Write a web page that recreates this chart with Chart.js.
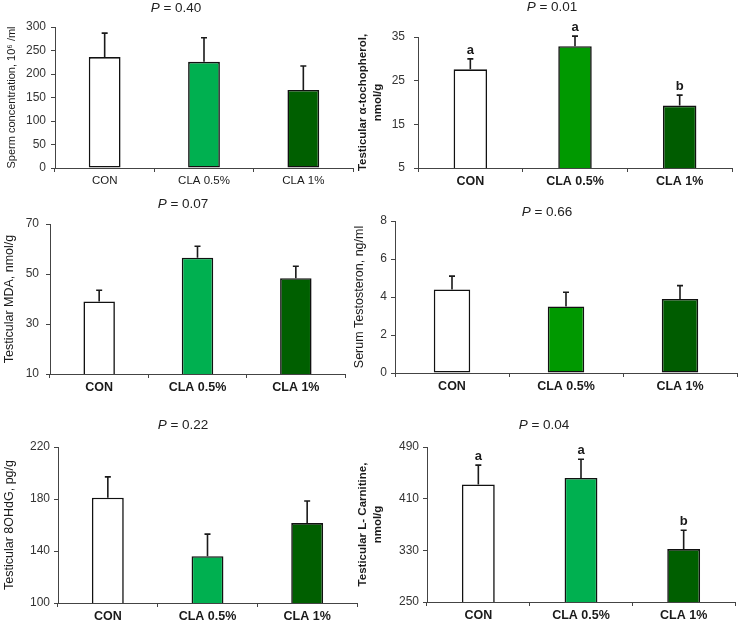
<!DOCTYPE html>
<html>
<head>
<meta charset="utf-8">
<script src="https://cdn.jsdelivr.net/npm/chart.js@4.4.1/dist/chart.umd.min.js"></script>
<style>
    body { margin: 0; background: #fff; }
    #page { position: relative; width: 740px; height: 625px; overflow: hidden; }
    #page canvas { position: absolute; }
</style>
</head>
<body>
<div id="page"></div>
<script>
// Data
const categories = ['CON', 'CLA 0.5%', 'CLA 1%'];

const spermMeans = [236, 226, 166];
const spermSd = [51, 51, 51];
const spermAxis = [0, 300, 50];

const tocoMeans = [27.6, 32.9, 19.3];
const tocoSd = [2.4, 2.3, 2.4];
const tocoAxis = [5, 35, 10];
const tocoLetters = ['a', 'a', 'b'];

const mdaMeans = [39, 56.5, 48.3];
const mdaSd = [4.5, 4.6, 4.8];
const mdaAxis = [10, 70, 20];

const testoMeans = [4.4, 3.5, 3.9];
const testoSd = [0.7, 0.75, 0.7];
const testoAxis = [0, 8, 2];

const ohdgMeans = [181, 136, 161.5];
const ohdgSd = [16, 17, 17];
const ohdgAxis = [100, 220, 40];

const carnMeans = [432, 442, 332];
const carnSd = [30, 29, 29];
const carnAxis = [250, 490, 80];
const carnLetters = ['a', 'a', 'b'];

const pValues = ['0.40', '0.01', '0.07', '0.66', '0.22', '0.04'];

const FONT = "'Liberation Sans', Arial, sans-serif";
Chart.defaults.font.family = FONT;

const lightGreen = ['#ffffff', '#00b050', '#005f00'];
const brightGreen = ['#ffffff', '#009900', '#005c00'];

// box = canvas rect, area = wanted plot area (page coords)
const panels = [
    { box: {x: 0, y: 0, w: 358, h: 195}, area: {l: 55, t: 27, r: 353, b: 168},
      means: spermMeans, sd: spermSd, axis: spermAxis, colors: lightGreen,
      yTitle: 'Sperm concentration, 10\u2076 /ml', yFont: {size: 11, weight: 'normal'}, yTitleX: 12,
      tickPad: 5, boldX: false, p: pValues[0], pX: 176, pY: 8 },
    { box: {x: 350, y: 0, w: 390, h: 195}, area: {l: 418, t: 37, r: 732, b: 168},
      means: tocoMeans, sd: tocoSd, axis: tocoAxis, colors: brightGreen, letters: tocoLetters,
      yTitle: ['Testicular \u03b1-tochopherol,', 'nmol/g'], yFont: {size: 11.5, weight: 'bold'}, yTitleX: 363,
      tickPad: 9, boldX: true, p: pValues[1], pX: 552, pY: 7 },
    { box: {x: 0, y: 195, w: 358, h: 210}, area: {l: 50, t: 224, r: 345, b: 374},
      means: mdaMeans, sd: mdaSd, axis: mdaAxis, colors: lightGreen,
      yTitle: 'Testicular MDA, nmol/g', yFont: {size: 12.5, weight: 'normal'}, yTitleX: 10,
      tickPad: 7, boldX: true, p: pValues[2], pX: 183, pY: 204 },
    { box: {x: 350, y: 195, w: 390, h: 210}, area: {l: 395, t: 221, r: 737, b: 373},
      means: testoMeans, sd: testoSd, axis: testoAxis, colors: brightGreen,
      yTitle: 'Serum Testosteron, ng/ml', yFont: {size: 12.5, weight: 'normal'}, yTitleX: 360,
      tickPad: 4, boldX: true, p: pValues[3], pX: 547, pY: 212 },
    { box: {x: 0, y: 405, w: 358, h: 220}, area: {l: 58, t: 447, r: 357, b: 603},
      means: ohdgMeans, sd: ohdgSd, axis: ohdgAxis, colors: lightGreen,
      yTitle: 'Testicular 8OHdG, pg/g', yFont: {size: 12.5, weight: 'normal'}, yTitleX: 10,
      tickPad: 4, boldX: true, p: pValues[4], pX: 183, pY: 425 },
    { box: {x: 350, y: 405, w: 390, h: 220}, area: {l: 427, t: 447, r: 735, b: 602},
      means: carnMeans, sd: carnSd, axis: carnAxis, colors: lightGreen, letters: carnLetters,
      yTitle: ['Testicular L- Carnitine,', 'nmol/g'], yFont: {size: 11.5, weight: 'bold'}, yTitleX: 363,
      tickPad: 4, boldX: true, p: pValues[5], pX: 544, pY: 425 }
];

// error bars + significance letters
const errorBars = {
    id: 'errorBars',
    afterDatasetsDraw(chart, args, opts) {
        const ctx = chart.ctx;
        const y = chart.scales.y;
        const meta = chart.getDatasetMeta(0);
        ctx.save();
        ctx.strokeStyle = '#1a1a1a';
        ctx.lineWidth = 1.6;
        ctx.fillStyle = '#1a1a1a';
        ctx.font = 'bold 13px ' + FONT;
        ctx.textAlign = 'center';
        ctx.textBaseline = 'bottom';
        meta.data.forEach((bar, i) => {
            const top = y.getPixelForValue(opts.means[i] + opts.sd[i]);
            ctx.beginPath();
            ctx.moveTo(bar.x, bar.y);
            ctx.lineTo(bar.x, top);
            ctx.moveTo(bar.x - 3, top);
            ctx.lineTo(bar.x + 3, top);
            ctx.stroke();
            if (opts.letters) ctx.fillText(opts.letters[i], bar.x, top - 2);
        });
        ctx.restore();
    }
};

// "P = x" heading with italic P
const pTitle = {
    id: 'pTitle',
    afterDraw(chart, args, opts) {
        const ctx = chart.ctx;
        const size = '13.5px ';
        ctx.save();
        ctx.fillStyle = '#222';
        ctx.textBaseline = 'middle';
        const rest = ' = ' + opts.text;
        ctx.font = 'italic ' + size + FONT;
        const wP = ctx.measureText('P').width;
        ctx.font = size + FONT;
        const wR = ctx.measureText(rest).width;
        const x0 = opts.x - (wP + wR) / 2;
        ctx.font = 'italic ' + size + FONT;
        ctx.fillText('P', x0, opts.y);
        ctx.font = size + FONT;
        ctx.fillText(rest, x0 + wP, opts.y);
        ctx.restore();
    }
};

const page = document.getElementById('page');

panels.forEach(p => {
    const canvas = document.createElement('canvas');
    canvas.width = p.box.w;
    canvas.height = p.box.h;
    canvas.style.left = p.box.x + 'px';
    canvas.style.top = p.box.y + 'px';
    page.appendChild(canvas);

    const yAxisWidth = p.area.l - p.box.x;
    const xAxisHeight = p.box.y + p.box.h - p.area.b;
    const lh = 1.25;
    const titlePad = p.yTitleX - p.box.x - p.yFont.size * lh / 2;

    new Chart(canvas.getContext('2d'), {
        type: 'bar',
        data: {
            labels: categories,
            datasets: [{
                data: p.means,
                backgroundColor: p.colors,
                borderColor: '#111',
                borderWidth: 1.6,
                borderSkipped: false,
                barPercentage: 0.32,
                categoryPercentage: 1
            }]
        },
        options: {
            responsive: false,
            animation: false,
            layout: {
                padding: {left: 0, top: p.area.t - p.box.y, right: p.box.x + p.box.w - p.area.r, bottom: 0}
            },
            plugins: {
                legend: {display: false},
                tooltip: {enabled: false},
                errorBars: {means: p.means, sd: p.sd, letters: p.letters},
                pTitle: {text: p.p, x: p.pX - p.box.x, y: p.pY - p.box.y}
            },
            scales: {
                x: {
                    grid: {display: true, drawOnChartArea: false, drawTicks: true, tickLength: 4, color: '#444'},
                    border: {display: true, color: '#444', width: 1},
                    ticks: {
                        color: '#1a1a1a',
                        padding: 2,
                        maxRotation: 0,
                        autoSkip: false,
                        font: p.boldX ? {size: 12.5, weight: 'bold'} : {size: 11.5, weight: 'normal'}
                    },
                    afterFit: s => { s.height = xAxisHeight; }
                },
                y: {
                    min: p.axis[0],
                    max: p.axis[1],
                    grid: {display: true, drawOnChartArea: false, drawTicks: true, tickLength: 4, color: '#444'},
                    border: {display: true, color: '#444', width: 1},
                    ticks: {stepSize: p.axis[2], color: '#333', padding: p.tickPad, font: {size: 12}},
                    title: {
                        display: true,
                        text: p.yTitle,
                        color: '#1a1a1a',
                        padding: {top: titlePad, bottom: 0},
                        font: {size: p.yFont.size, weight: p.yFont.weight, lineHeight: lh}
                    },
                    afterFit: s => { s.width = yAxisWidth; }
                }
            }
        },
        plugins: [errorBars, pTitle]
    });
});
</script>
</body>
</html>
